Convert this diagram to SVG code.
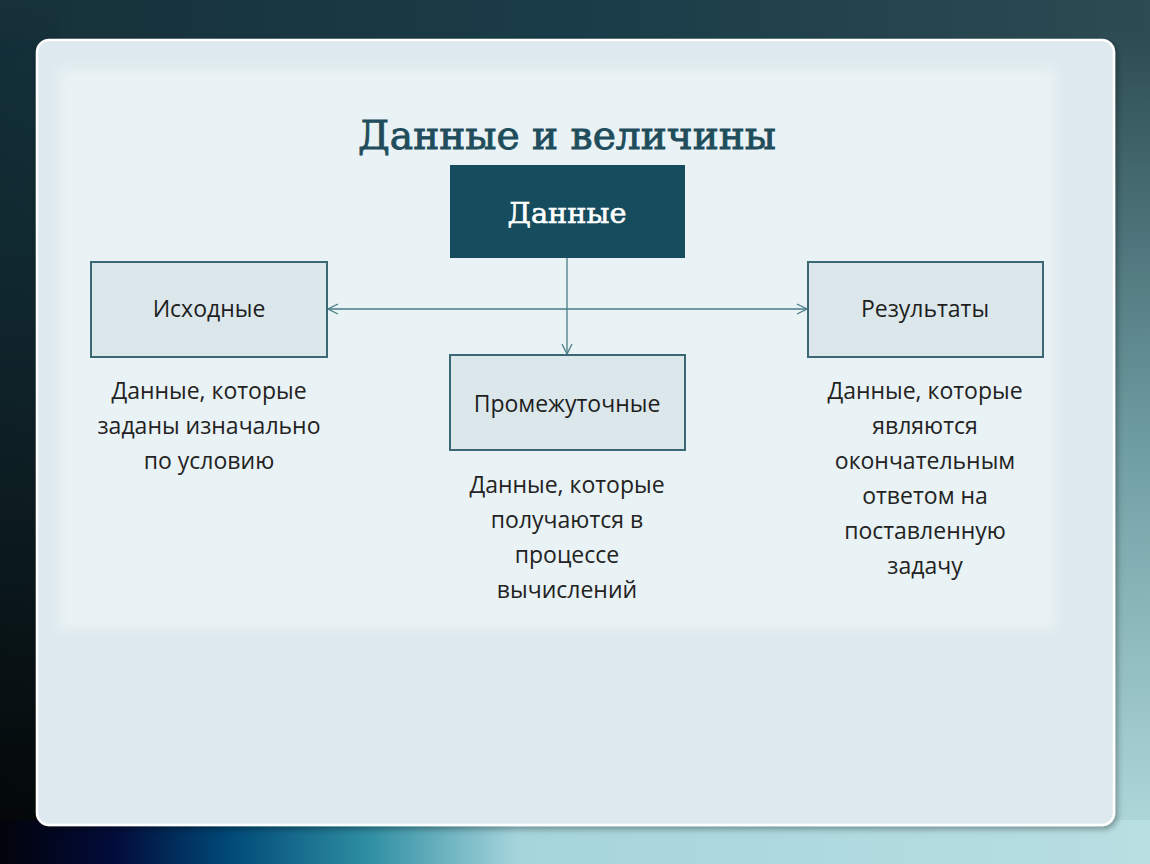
<svg xmlns="http://www.w3.org/2000/svg" width="1150" height="864" viewBox="0 0 1150 864">
  <defs>
    <linearGradient id="bg" x1="0" y1="0" x2="1" y2="1">
      <stop offset="0" stop-color="#12303a"/>
      <stop offset="0.45" stop-color="#1f4550"/>
      <stop offset="0.75" stop-color="#6d9ca1"/>
      <stop offset="1" stop-color="#b5dde0"/>
    </linearGradient>
    <linearGradient id="leftShade" x1="0" y1="0" x2="0" y2="1">
      <stop offset="0" stop-color="#000" stop-opacity="0"/>
      <stop offset="1" stop-color="#000" stop-opacity="0.95"/>
    </linearGradient>
    <linearGradient id="rightCol" x1="0" y1="0" x2="0" y2="1">
      <stop offset="0" stop-color="#2c4b53"/>
      <stop offset="0.5" stop-color="#6f9ea2"/>
      <stop offset="1" stop-color="#b4dcdf"/>
    </linearGradient>
    <linearGradient id="topStrip" x1="0" y1="0" x2="1" y2="0">
      <stop offset="0" stop-color="#16313a"/>
      <stop offset="0.5" stop-color="#1a3c48"/>
      <stop offset="1" stop-color="#2c4b53"/>
    </linearGradient>
    <linearGradient id="bottomStrip" x1="0" y1="0" x2="1" y2="0">
      <stop offset="0" stop-color="#02030a"/>
      <stop offset="0.1" stop-color="#020c3a"/>
      <stop offset="0.2" stop-color="#004a78"/>
      <stop offset="0.32" stop-color="#2e8ea2"/>
      <stop offset="0.45" stop-color="#a6d5dc"/>
      <stop offset="1" stop-color="#b8dfe2"/>
    </linearGradient>
    <filter id="soft" x="-5%" y="-5%" width="110%" height="110%">
      <feGaussianBlur stdDeviation="6"/>
    </filter>
    <filter id="shadow" x="-5%" y="-5%" width="110%" height="110%">
      <feDropShadow dx="2" dy="3" stdDeviation="3" flood-color="#000" flood-opacity="0.35"/>
    </filter>
    <marker id="arrow" viewBox="0 0 12 12" refX="11" refY="6" markerWidth="12" markerHeight="12" markerUnits="userSpaceOnUse" orient="auto-start-reverse">
      <path d="M1,1 L11,6 L1,11" fill="none" stroke="#4a7d88" stroke-width="1.3"/>
    </marker>
    <style>
      .box { fill: #dbe7eb; stroke: #3b6874; stroke-width: 2; }
      .lbl { font-family: "Open Sans", "Noto Sans", sans-serif; font-size: 23px; fill: #1e1e1e; text-anchor: middle; }
      .desc { font-family: "Open Sans", "Noto Sans", sans-serif; font-size: 23px; fill: #232323; text-anchor: middle; }
      .conn { stroke: #4a7d88; stroke-width: 1.3; fill: none; }
    </style>
  </defs>

  <!-- background -->
  <rect x="0" y="0" width="1150" height="864" fill="url(#bg)"/>
  <rect x="0" y="0" width="1150" height="40" fill="url(#topStrip)"/>
  <rect x="0" y="0" width="60" height="864" fill="url(#leftShade)"/>
  <rect x="1100" y="30" width="50" height="834" fill="url(#rightCol)"/>
  <rect x="0" y="820" width="1150" height="44" fill="url(#bottomStrip)"/>

  <!-- card -->
  <rect x="37" y="40" width="1077" height="785" rx="12" fill="#dde9ee" stroke="#ffffff" stroke-width="2.5" filter="url(#shadow)"/>
  <rect x="58" y="68" width="998" height="562" fill="#e9f2f4" filter="url(#soft)"/>

  <!-- title -->
  <text x="567" y="149" text-anchor="middle" font-family="DejaVu Serif, Liberation Serif, serif" font-size="39" fill="#1f4d5c" stroke="#1f4d5c" stroke-width="0.9" textLength="418" lengthAdjust="spacingAndGlyphs">Данные и величины</text>

  <!-- connectors -->
  <g id="connectors">
    <line class="conn" x1="567" y1="258" x2="567" y2="354" marker-end="url(#arrow)"/>
    <line class="conn" x1="328" y1="309" x2="807" y2="309" marker-start="url(#arrow)" marker-end="url(#arrow)"/>
  </g>

  <g id="node-data">
    <rect x="450" y="165" width="235" height="93" fill="#154d5e"/>
    <text x="567" y="223" text-anchor="middle" font-family="DejaVu Serif, Liberation Serif, serif" font-size="28" fill="#ffffff" stroke="#ffffff" stroke-width="0.6" textLength="119" lengthAdjust="spacingAndGlyphs">Данные</text>
  </g>

  <g id="node-source">
    <rect class="box" x="91" y="262" width="236" height="95"/>
    <text class="lbl" x="209" y="317">Исходные</text>
  </g>

  <g id="node-results">
    <rect class="box" x="808" y="262" width="235" height="95"/>
    <text class="lbl" x="925" y="317">Результаты</text>
  </g>

  <g id="node-intermediate">
    <rect class="box" x="450" y="355" width="235" height="95"/>
    <text class="lbl" x="567" y="412">Промежуточные</text>
  </g>

  <g id="desc-source">
    <text class="desc" x="209" y="399">Данные, которые</text>
    <text class="desc" x="209" y="434">заданы изначально</text>
    <text class="desc" x="209" y="469">по условию</text>
  </g>

  <g id="desc-intermediate">
    <text class="desc" x="567" y="493">Данные, которые</text>
    <text class="desc" x="567" y="528">получаются в</text>
    <text class="desc" x="567" y="563">процессе</text>
    <text class="desc" x="567" y="598">вычислений</text>
  </g>

  <g id="desc-results">
    <text class="desc" x="925" y="399">Данные, которые</text>
    <text class="desc" x="925" y="434">являются</text>
    <text class="desc" x="925" y="469">окончательным</text>
    <text class="desc" x="925" y="504">ответом на</text>
    <text class="desc" x="925" y="539">поставленную</text>
    <text class="desc" x="925" y="574">задачу</text>
  </g>
</svg>
